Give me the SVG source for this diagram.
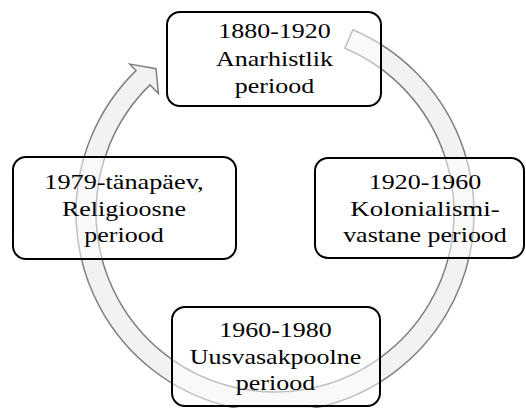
<svg xmlns="http://www.w3.org/2000/svg" width="526" height="408" viewBox="0 0 526 408">
<style>
.box{fill:#ffffff;fill-opacity:0.5;stroke:#000000;stroke-width:2}
.lbl{font-family:'Liberation Serif','Times New Roman',serif;font-size:22px;fill:#000000;text-anchor:middle}
.band{fill:#f2f2f2;stroke:#808080;stroke-width:1.5;stroke-linejoin:miter}
</style>
<rect width="526" height="408" fill="#ffffff"/>
<g id="connectors">
<path class="band" d="M352.8,29.8 A199,199 0 1 1 136.0,70.6 L129.7,64.1 L156.0,68.7 L158.4,93.5 L150.0,84.9 A179,179 0 1 0 344.9,48.2 Z"/>
</g>
<g id="node1">
<rect class="box" x="167" y="12" width="214" height="94" rx="13"/>
<text class="lbl" x="274.5" y="38" textLength="112.5" lengthAdjust="spacingAndGlyphs">1880-1920</text>
<text class="lbl" x="274.5" y="65.5" textLength="116.8" lengthAdjust="spacingAndGlyphs">Anarhistlik</text>
<text class="lbl" x="274.5" y="93" textLength="79.3" lengthAdjust="spacingAndGlyphs">periood</text>
</g>
<g id="node2">
<rect class="box" x="315" y="158" width="209" height="100" rx="13"/>
<text class="lbl" x="425" y="189" textLength="112.5" lengthAdjust="spacingAndGlyphs">1920-1960</text>
<text class="lbl" x="425" y="215.7" textLength="149.4" lengthAdjust="spacingAndGlyphs">Kolonialismi-</text>
<text class="lbl" x="425" y="242.3" textLength="163.7" lengthAdjust="spacingAndGlyphs">vastane periood</text>
</g>
<g id="node3">
<rect class="box" x="172" y="307" width="208" height="99" rx="13"/>
<text class="lbl" x="275.5" y="337" textLength="112.5" lengthAdjust="spacingAndGlyphs">1960-1980</text>
<text class="lbl" x="275.5" y="364" textLength="171.6" lengthAdjust="spacingAndGlyphs">Uusvasakpoolne</text>
<text class="lbl" x="275.5" y="390" textLength="79.3" lengthAdjust="spacingAndGlyphs">periood</text>
</g>
<g id="node4">
<rect class="box" x="13" y="157" width="223" height="102" rx="13"/>
<text class="lbl" x="124" y="189" textLength="159.3" lengthAdjust="spacingAndGlyphs">1979-tänapäev,</text>
<text class="lbl" x="124" y="215.7" textLength="124" lengthAdjust="spacingAndGlyphs">Religioosne</text>
<text class="lbl" x="124" y="242.3" textLength="79.3" lengthAdjust="spacingAndGlyphs">periood</text>
</g>
</svg>
